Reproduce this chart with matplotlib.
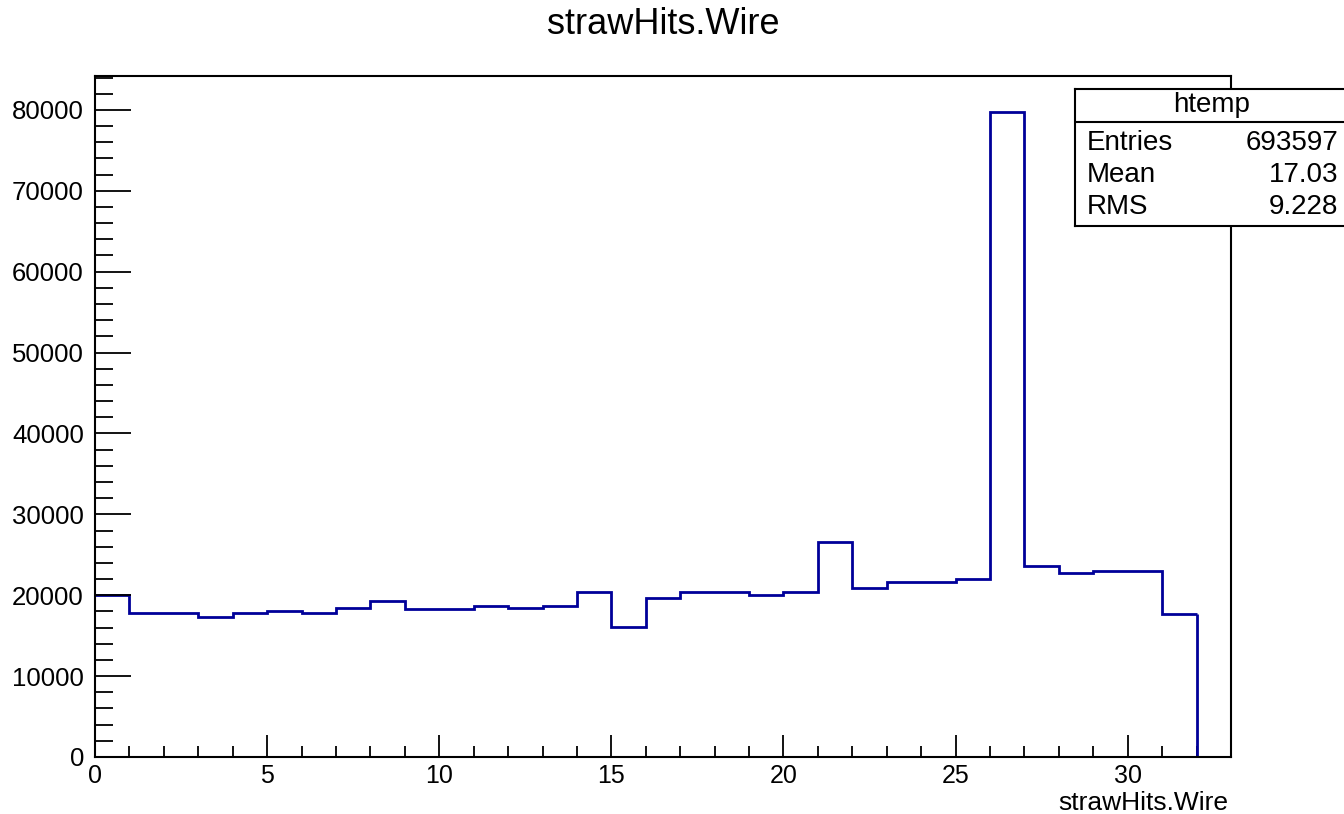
import matplotlib
matplotlib.use("Agg")
import matplotlib.pyplot as plt
from matplotlib.ticker import MultipleLocator
import numpy as np

plt.rcParams['font.family'] = ['Liberation Sans', 'DejaVu Sans']

# counts per wire bin (width 1, from 0 to 32)
wire_edges = np.arange(0, 33)
wire_counts = [20000, 17770, 17770, 17350, 17770, 18050, 17770, 18400,
               19330, 18340, 18340, 18670, 18400, 18670, 20360, 16030,
               19600, 20360, 20360, 20070, 20360, 26580, 20930, 21680,
               21680, 21970, 79800, 23620, 22710, 23000, 23000, 17680]

stat_names = ["Entries", "Mean", "RMS"]
stat_values = ["693597", "17.03", "9.228"]

W, H = 1344, 814
fig = plt.figure(figsize=(W / 100, H / 100), dpi=100)
ax = fig.add_axes([95 / W, 1 - 757 / H, (1231 - 95) / W, (757 - 76) / H])

hcol = "#000099"
ax.stairs(wire_counts, wire_edges, color=hcol, lw=2.0, baseline=None)
# closing edge down to zero after the last bin
ax.vlines(wire_edges[-1], 0, wire_counts[-1], color=hcol, lw=2.0)

ax.set_xlim(0, 33)
ax.set_ylim(0, max(wire_counts) * 1.055)

ax.xaxis.set_major_locator(MultipleLocator(5))
ax.xaxis.set_minor_locator(MultipleLocator(1))
ax.yaxis.set_major_locator(MultipleLocator(10000))
ax.yaxis.set_minor_locator(MultipleLocator(2000))
ax.tick_params(axis="x", which="major", direction="in", length=16, width=1.3,
               labelsize=18, pad=5)
ax.tick_params(axis="x", which="minor", direction="in", length=8, width=1.3)
ax.tick_params(axis="y", which="major", direction="in", length=26, width=1.3,
               labelsize=18.5, pad=8)
ax.tick_params(axis="y", which="minor", direction="in", length=13, width=1.3)
for s in ax.spines.values():
    s.set_linewidth(1.5)
    s.set_zorder(3)

fig.text(663 / W, 1 - 25 / H, "strawHits.Wire", ha="center", va="center",
         fontsize=26)
fig.text(1228 / W, 1 - 803 / H, "strawHits.Wire", ha="right", va="center",
         fontsize=19)

# stats box
bx0, bx1, by0, by1 = 1075, 1349, 89, 226
box = fig.add_axes([bx0 / W, 1 - by1 / H, (bx1 - bx0) / W, (by1 - by0) / H])
box.set_xticks([])
box.set_yticks([])
for s in box.spines.values():
    s.set_linewidth(1.5)
box.set_xlim(0, 1)
box.set_ylim(0, 1)
sep = (by1 - 122) / (by1 - by0)
box.axhline(sep, color="black", lw=1.5)
fig.text((bx0 + bx1) / 2 / W, 1 - 105 / H, "htemp", ha="center", va="center",
         fontsize=20)
row_y = [143, 175, 207]
for name, val, y in zip(stat_names, stat_values, row_y):
    fig.text(1087 / W, 1 - y / H, name, ha="left", va="center", fontsize=20)
    fig.text(1338 / W, 1 - y / H, val, ha="right", va="center", fontsize=20)

fig.savefig("out.png", dpi=100)
